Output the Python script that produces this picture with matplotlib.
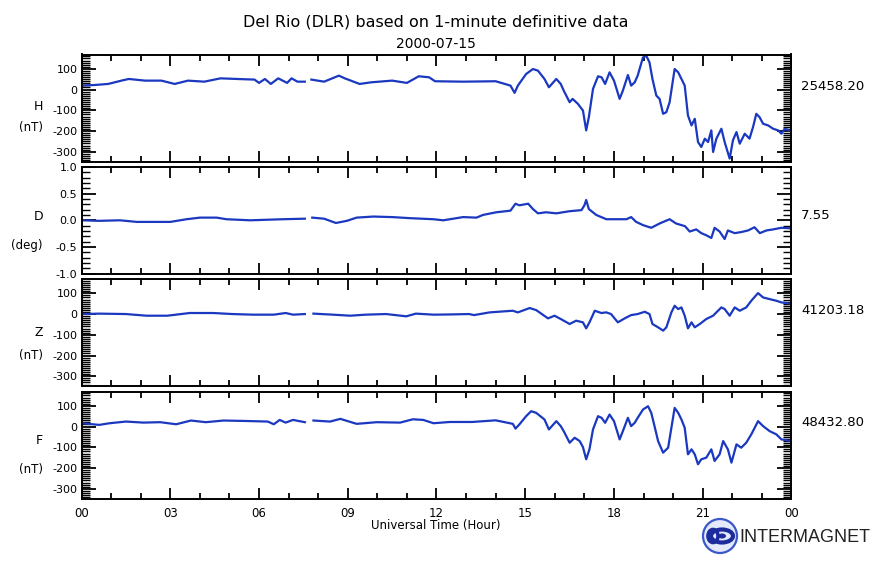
import numpy as np
import matplotlib
matplotlib.use("Agg")
import matplotlib.pyplot as plt
from matplotlib.ticker import MultipleLocator, FormatStrFormatter
from matplotlib.patches import Circle, Ellipse

# Del Rio (DLR) 1-minute definitive magnetometer data, 2000-07-15
# values are offsets from the baselines printed on the right
nan = np.nan

h_hours = [0.0, 0.45, 0.9, 1.35, 1.6, 2.15, 2.7, 3.15, 3.6, 4.15, 4.7, 5.25, 5.85, 6.0,
           6.2, 6.4, 6.65, 6.8, 6.95, 7.1, 7.3, 7.55, 7.65, 7.77, 8.2, 8.7, 8.9, 9.4,
           9.8, 10.5, 11.0, 11.4, 11.75, 11.95, 12.9, 14.0, 14.5, 14.64, 14.75, 15.03,
           15.26, 15.43, 15.65, 15.8, 16.05, 16.2, 16.3, 16.5, 16.6, 16.78, 16.95, 17.06,
           17.15, 17.29, 17.46, 17.58, 17.7, 17.85, 18.0, 18.19, 18.3, 18.47, 18.58, 18.7,
           18.8, 18.98, 19.09, 19.2, 19.3, 19.43, 19.54, 19.66, 19.77, 19.88, 19.99, 20.05,
           20.17, 20.28, 20.39, 20.5, 20.62, 20.73, 20.84, 20.95, 21.07, 21.18, 21.29,
           21.35, 21.46, 21.63, 21.74, 21.91, 22.02, 22.14, 22.25, 22.42, 22.58, 22.7,
           22.81, 22.92, 23.04, 23.21, 23.38, 23.55, 23.66, 23.77, 23.98]
h_values = [19, 22, 27, 43, 51, 43, 43, 27, 43, 38, 54, 51, 48, 32,
            51, 27, 54, 43, 32, 54, 38, 38, nan, 48, 38, 67, 54, 27,
            35, 43, 32, 64, 59, 40, 38, 40, 19, -16, 19, 75,
            99, 91, 51, 11, 51, 27, -5, -61, -45, -69, -101, -197,
            -133, 3, 64, 59, 27, 83, 43, -45, -5, 70, 19, 35,
            67, 155, 163, 131, 51, -29, -45, -117, -109, -61, 43, 99,
            83, 51, 19, -125, -173, -141, -253, -277, -237, -253, -197,
            -301, -237, -189, -253, -333, -245, -205, -261, -213, -237, -181,
            -117, -133, -165, -173, -189, -197, -213, -189, -200]

d_hours = [0.0, 0.6, 1.3, 1.87, 3.0, 3.55, 4.0, 4.57, 4.9, 5.7, 6.8, 7.55, 7.65, 7.8,
           8.2, 8.6, 8.97, 9.3, 9.86, 10.5, 11.1, 11.9, 12.23, 12.9, 13.35, 13.57, 14.02,
           14.5, 14.67, 14.8, 15.1, 15.26, 15.43, 15.7, 16.05, 16.5, 16.9, 17.0, 17.06,
           17.15, 17.4, 17.74, 18.08, 18.42, 18.58, 18.75, 18.98, 19.26, 19.54, 19.88,
           20.1, 20.4, 20.56, 20.78, 20.95, 21.12, 21.29, 21.4, 21.57, 21.74, 21.85,
           22.08, 22.3, 22.53, 22.75, 22.93, 23.15, 23.38, 23.66, 23.98]
d_values = [0.0, -0.01, 0.0, -0.03, -0.03, 0.02, 0.05, 0.05, 0.02, 0.0, 0.02, 0.03, nan, 0.05,
            0.03, -0.05, -0.01, 0.05, 0.07, 0.06, 0.04, 0.02, 0.0, 0.06, 0.05, 0.10, 0.15,
            0.18, 0.31, 0.28, 0.31, 0.21, 0.13, 0.15, 0.13, 0.17, 0.19, 0.28, 0.38,
            0.21, 0.10, 0.02, 0.02, 0.02, 0.06, -0.03, -0.09, -0.14, -0.06, 0.02,
            -0.06, -0.11, -0.21, -0.17, -0.24, -0.28, -0.33, -0.14, -0.21, -0.35, -0.19,
            -0.24, -0.22, -0.19, -0.13, -0.24, -0.19, -0.17, -0.14, -0.15]

z_hours = [0.0, 0.6, 1.5, 2.2, 2.9, 3.66, 4.45, 5.1, 5.8, 6.5, 6.9, 7.15, 7.55, 7.65,
           7.84, 8.5, 9.08, 9.6, 10.3, 10.98, 11.3, 11.9, 12.44, 13.1, 13.27, 13.8, 14.58,
           14.75, 15.15, 15.37, 15.77, 15.99, 16.2, 16.5, 16.72, 16.95, 17.06, 17.17,
           17.35, 17.57, 17.74, 17.9, 18.13, 18.36, 18.58, 18.8, 19.04, 19.2, 19.3, 19.49,
           19.66, 19.77, 19.94, 20.05, 20.17, 20.28, 20.39, 20.5, 20.62, 20.73, 20.9,
           21.12, 21.35, 21.46, 21.63, 21.74, 21.91, 22.08, 22.25, 22.47, 22.64, 22.87,
           23.04, 23.26, 23.49, 23.66, 23.98]
z_values = [0, 2, 0, -8, -8, 5, 5, 0, -3, -3, 5, -3, 0, nan,
            2, -3, -8, -3, 0, -11, 2, -3, -2, 0, -5, 8, 16,
            8, 29, 19, -21, -8, -24, -48, -32, -40, -69, -40,
            16, 5, 8, 0, -40, -21, -5, 0, 11, 0, -48, -64,
            -80, -64, 8, 40, 24, 32, -8, -69, -40, -64, -48,
            -24, -8, 8, 32, 24, -8, 32, 16, 32, 64, 101,
            80, 72, 64, 56, 50]

f_hours = [0.0, 0.6, 0.95, 1.5, 2.1, 2.66, 3.2, 3.7, 4.2, 4.8, 5.5, 6.3, 6.5, 6.7,
           6.9, 7.15, 7.55, 7.65, 7.84, 8.4, 8.75, 9.3, 9.98, 10.77, 11.2, 11.55, 11.9,
           12.45, 13.2, 14.0, 14.58, 14.67, 14.8, 15.03, 15.2, 15.37, 15.65, 15.8, 16.05,
           16.2, 16.3, 16.5, 16.67, 16.84, 16.95, 17.06, 17.17, 17.29, 17.46, 17.58, 17.7,
           17.85, 18.0, 18.19, 18.3, 18.47, 18.58, 18.7, 18.8, 18.98, 19.15, 19.26, 19.37,
           19.49, 19.66, 19.83, 19.94, 20.05, 20.17, 20.28, 20.39, 20.5, 20.62, 20.73,
           20.84, 20.95, 21.12, 21.29, 21.4, 21.57, 21.69, 21.85, 21.97, 22.14, 22.3,
           22.47, 22.64, 22.87, 23.04, 23.26, 23.49, 23.66, 23.98]
f_values = [16, 8, 16, 24, 19, 21, 11, 29, 21, 29, 27, 24, 11, 32,
            19, 32, 21, nan, 29, 24, 37, 13, 21, 19, 35, 32, 16,
            22, 22, 30, 13, -10, 10, 50, 74, 66, 34, -14, 26,
            2, -22, -78, -54, -70, -99, -158, -110, -14, 50, 42, 18,
            58, 26, -62, -22, 42, 2, 18, 42, 82, 98, 66, 2,
            -70, -126, -102, -6, 90, 66, 34, -6, -134, -110, -134,
            -182, -158, -150, -110, -166, -134, -70, -110, -174, -86, -102,
            -78, -38, 26, 2, -22, -38, -62, -70]

components = ["H", "D", "Z", "F"]
units = ["(nT)", "(deg)", "(nT)", "(nT)"]
baselines = ["25458.20", "7.55", "41203.18", "48432.80"]
hour_labels = ["00", "03", "06", "09", "12", "15", "18", "21", "00"]

W, H = 878, 561
LINE = "#1a38c0"


def fx(x):
    return x / W


def fy(y):
    return 1 - y / H


fig = plt.figure(figsize=(W / 100, H / 100), dpi=100)
plt.rcParams["font.family"] = ["DejaVu Sans"]

series = [(h_hours, h_values), (d_hours, d_values), (z_hours, z_values), (f_hours, f_values)]
left, right = 81.5, 791.5
tops = [54.5, 166.8, 279.0, 391.5]
height = 107
label_y = [(106, 128), (217, 245), (332, 355), (440, 469)]
base_y = [86, 215, 310, 423]

for i, (hours, vals) in enumerate(series):
    top = tops[i]
    ax = fig.add_axes([fx(left), fy(top + height), (right - left) / W, height / H])
    ax.plot(hours, vals, color=LINE, lw=1.6)
    ax.set_xlim(0, 24)
    ax.xaxis.set_major_locator(MultipleLocator(3))
    ax.xaxis.set_minor_locator(MultipleLocator(1))
    if components[i] == "D":
        ax.set_ylim(-1.0, 1.0)
        ax.yaxis.set_major_locator(MultipleLocator(0.5))
        ax.yaxis.set_minor_locator(MultipleLocator(0.1))
        ax.yaxis.set_major_formatter(FormatStrFormatter("%.1f"))
    else:
        ax.set_ylim(-347, 169)
        ax.yaxis.set_major_locator(MultipleLocator(100))
        ax.yaxis.set_minor_locator(MultipleLocator(10))
        ax.yaxis.set_major_formatter(FormatStrFormatter("%d"))
    ax.tick_params(axis="both", which="both", direction="in", top=True, right=True,
                   width=1.3, labelsize=8)
    ax.tick_params(axis="x", which="major", length=8, pad=6, labelsize=8.5)
    ax.tick_params(axis="x", which="minor", length=4.5)
    ax.tick_params(axis="y", which="major", length=10, pad=3)
    ax.tick_params(axis="y", which="minor", length=6, width=1.0)
    for s in ax.spines.values():
        s.set_linewidth(1.4)
    if i == 3:
        ax.set_xticks(range(0, 25, 3))
        ax.set_xticklabels(hour_labels)
    else:
        ax.set_xticklabels([])

    fig.text(fx(43), fy(label_y[i][0]), components[i], ha="right", va="center", fontsize=9)
    fig.text(fx(43), fy(label_y[i][1]), units[i], ha="right", va="center", fontsize=8.5)
    fig.text(fx(801), fy(base_y[i]), baselines[i], ha="left", va="center", fontsize=9.5)

fig.text(fx(436), fy(22), "Del Rio (DLR) based on 1-minute definitive data",
         ha="center", va="center", fontsize=11.5)
fig.text(fx(436), fy(44), "2000-07-15", ha="center", va="center", fontsize=10)
fig.text(fx(436), fy(526), "Universal Time (Hour)", ha="center", va="center", fontsize=8.5)

# INTERMAGNET logo
lax = fig.add_axes([fx(700), fy(556), 40 / W, 40 / H])
lax.set_xlim(0, 40)
lax.set_ylim(0, 40)
lax.axis("off")
lax.add_patch(Circle((20, 20), 17, facecolor="#e3e9fb", edgecolor="#3a58c8", lw=1.6))
lax.add_patch(Ellipse((22, 20), 22, 13, facecolor="none", edgecolor="#1c2c9c", lw=3))
lax.add_patch(Ellipse((13, 20), 10, 13, facecolor="none", edgecolor="#1c2c9c", lw=2.6))
lax.add_patch(Ellipse((22, 20), 8, 5, facecolor="#1c2c9c", edgecolor="none"))
fig.text(fx(739), fy(537), "INTERMAGNET", ha="left", va="center", fontsize=13,
         family="Liberation Sans", color="#222222")

fig.savefig("out.png", dpi=100)
